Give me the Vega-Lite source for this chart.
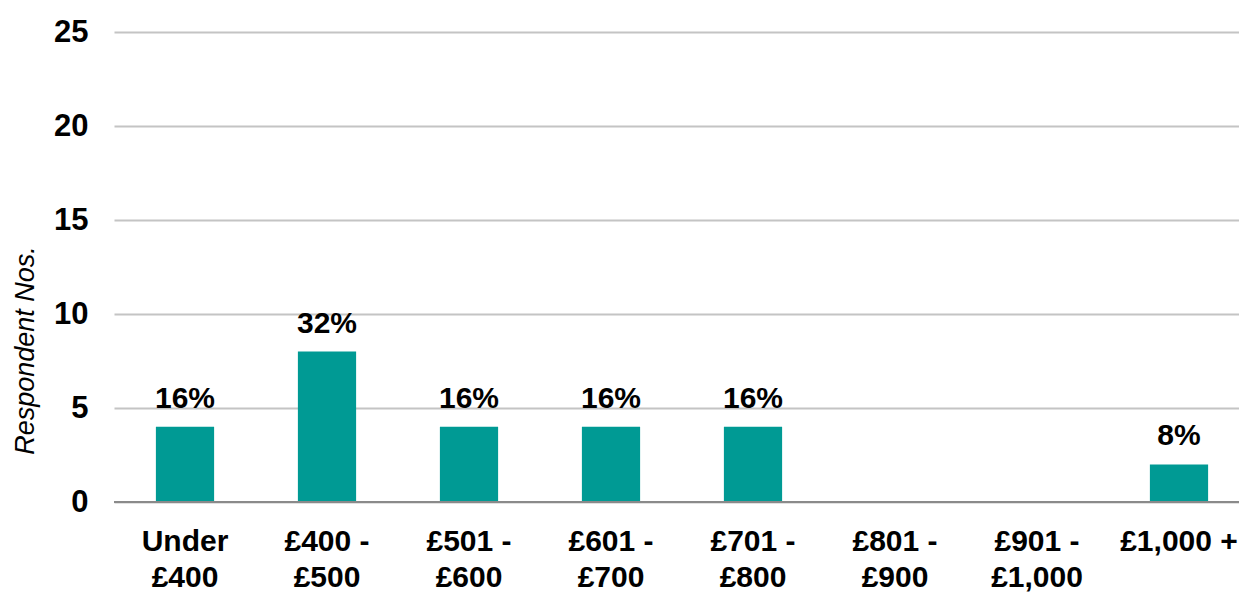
{
  "$schema": "https://vega.github.io/schema/vega-lite/v6.json",
  "width": 1136,
  "height": 470,
  "padding": {"left": 114, "top": 32, "right": 0, "bottom": 90},
  "autosize": {"type": "none"},
  "background": "white",
  "config": {"view": {"stroke": null}, "font": "Liberation Sans"},
  "data": {"values": [
    {"band": "Under|£400", "count": 4, "pct": "16%"},
    {"band": "£400 -|£500", "count": 8, "pct": "32%"},
    {"band": "£501 -|£600", "count": 4, "pct": "16%"},
    {"band": "£601 -|£700", "count": 4, "pct": "16%"},
    {"band": "£701 -|£800", "count": 4, "pct": "16%"},
    {"band": "£801 -|£900", "count": 0, "pct": ""},
    {"band": "£901 -|£1,000", "count": 0, "pct": ""},
    {"band": "£1,000 +", "count": 2, "pct": "8%"}
  ]},
  "encoding": {
    "x": {"field": "band", "type": "nominal", "sort": null,
      "scale": {"paddingInner": 0.59, "paddingOuter": 0.295},
      "axis": {"title": null, "labelAngle": 0, "labelExpr": "split(datum.label, '|')",
        "labelFont": "Liberation Sans", "labelFontWeight": "bold", "labelFontSize": 30, "labelColor": "#000000",
        "labelLineHeight": 36, "labelPadding": 24, "ticks": false, "domain": false, "labelBaseline": "top"}},
    "y": {"field": "count", "type": "quantitative",
      "scale": {"domain": [0, 25], "nice": false},
      "axis": {"values": [0, 5, 10, 15, 20, 25], "title": "Respondent  Nos.", "titleFont": "Liberation Sans",
        "titleFontStyle": "italic", "titleFontWeight": "normal", "titleFontSize": 27, "titleColor": "#000000",
        "titleY": 318, "titleX": -89, "titleAngle": -90, "titleAlign": "center", "titleBaseline": "middle",
        "labelFont": "Liberation Sans", "labelFontWeight": "bold", "labelFontSize": 31, "labelColor": "#000000",
        "labelPadding": 26, "ticks": false, "domain": false,
        "grid": true, "gridColor": "#c4c4c4", "gridWidth": 2}}
  },
  "layer": [
    {"mark": {"type": "bar", "color": "#009a94"}},
    {"mark": {"type": "rule", "color": "#8a8a8a", "strokeWidth": 2}, "encoding": {"y": {"datum": 0}, "x": null}},
    {"mark": {"type": "text", "dy": -19, "baseline": "alphabetic", "fontSize": 30, "fontWeight": "bold", "color": "#000000", "font": "Liberation Sans"},
      "encoding": {"text": {"field": "pct"}}}
  ]
}
